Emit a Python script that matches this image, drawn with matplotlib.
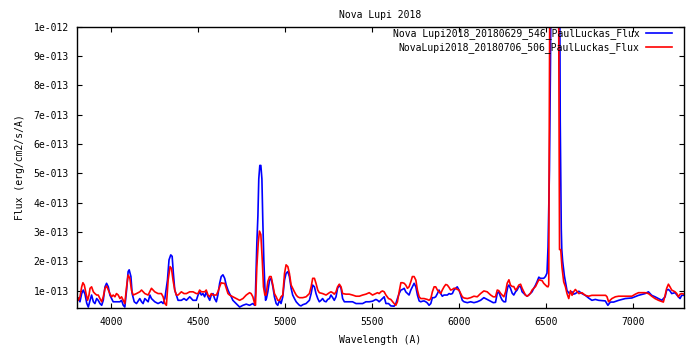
import numpy as np
import matplotlib as mpl
mpl.use("Agg")
from matplotlib import pyplot as plt

# spectrum 2018-06-29 (blue), flux in units of 1e-13 erg/cm2/s/A
wave_0629 = [3803, 3813, 3822, 3832, 3841, 3851, 3861, 3870, 3880, 3889, 3899, 3908, 3918, 3927, 3937, 3947, 3956,
             3966, 3975, 3985, 3994, 4004, 4013, 4023, 4042, 4052, 4061, 4071, 4080, 4090, 4099, 4105, 4115, 4122,
             4134, 4147, 4166, 4176, 4185, 4195, 4214, 4224, 4233, 4252, 4271, 4290, 4300, 4310, 4325, 4334, 4344,
             4352, 4359, 4367, 4376, 4386, 4405, 4420,
             4434, 4453, 4472, 4491, 4501, 4510, 4520, 4529, 4539, 4548, 4558, 4568, 4577, 4587, 4596, 4606, 4615,
             4625, 4634, 4644, 4654, 4663, 4673, 4682, 4692, 4701, 4720, 4740, 4759, 4778, 4797, 4816, 4826, 4831,
             4839, 4845, 4850, 4856, 4862, 4868, 4873, 4879, 4885, 4889, 4894, 4902, 4912, 4921, 4931, 4940, 4950,
             4959, 4969, 4978, 4988,
             4998, 5007, 5017, 5026, 5036, 5045, 5055, 5065, 5074, 5084, 5093, 5103, 5122, 5141, 5151, 5160, 5170,
             5179, 5189, 5198, 5208, 5217, 5227, 5237, 5246, 5256, 5265, 5275, 5284, 5294, 5303, 5313, 5323, 5332,
             5342, 5370, 5389, 5409, 5428, 5447, 5466, 5485, 5504, 5523, 5533, 5542, 5561, 5571, 5581, 5596,
             5609, 5628, 5638, 5647, 5657, 5667, 5676, 5686, 5695, 5705, 5714, 5724, 5733, 5743, 5753, 5762, 5772,
             5781, 5791, 5800, 5810, 5819, 5829, 5839, 5848, 5858, 5867, 5877, 5886, 5896, 5905, 5915, 5934, 5944,
             5953, 5963, 5972, 5982, 5991, 6001, 6011, 6020, 6030, 6049, 6068, 6087, 6106, 6125, 6144, 6163, 6183,
             6198,
             6211, 6221, 6230, 6240, 6249, 6259, 6269, 6274, 6282, 6288, 6297, 6307, 6316, 6326, 6335, 6345, 6355,
             6364, 6383, 6393, 6402, 6412, 6421, 6431, 6441, 6450, 6460, 6469, 6488, 6498, 6507, 6513, 6521, 6527,
             6533, 6555, 6578, 6583, 6586, 6589, 6592, 6597, 6607, 6622, 6636,
             6642, 6651, 6660, 6670, 6690, 6708, 6727, 6746, 6765, 6785, 6804, 6842, 6857, 6871, 6890, 6919, 6957,
             6995, 7033, 7071, 7090, 7109, 7128, 7148, 7167, 7186, 7195, 7205, 7214, 7224, 7243, 7262, 7272, 7281,
             7295]
flux_0629 = [0.79, 0.74, 0.62, 0.90, 1.02, 0.88, 0.57, 0.44, 0.67, 0.85, 0.62, 0.56, 0.73, 0.67, 0.56, 0.50, 0.67,
             1.13, 1.25, 1.13, 0.85, 0.73, 0.62, 0.62, 0.62, 0.62, 0.67, 0.50, 0.44, 1.02, 1.65, 1.71, 1.48, 0.90,
             0.62, 0.56, 0.73, 0.62, 0.56, 0.73, 0.62, 0.85, 0.73, 0.62, 0.56, 0.62, 0.56, 0.73, 1.36, 2.05, 2.22,
             2.17, 1.59, 1.02, 0.85, 0.67, 0.67, 0.73,
             0.67, 0.79, 0.67, 0.67, 0.85, 0.96, 0.85, 0.90, 0.79, 0.96, 0.79, 0.67, 0.85, 0.90, 0.73, 0.62, 0.85,
             1.25, 1.48, 1.54, 1.42, 1.19, 1.02, 0.90, 0.79, 0.67, 0.56, 0.44, 0.50, 0.54, 0.50, 0.56, 0.50, 0.90,
             2.63, 3.55, 4.81, 5.27, 5.27, 4.81, 3.43, 2.05, 1.13, 0.67, 0.73, 0.96, 1.36, 1.42, 1.13, 0.79, 0.56,
             0.50, 0.67, 0.56, 0.79,
             1.36, 1.59, 1.65, 1.48, 1.08, 0.85, 0.73, 0.62, 0.56, 0.50, 0.48, 0.52, 0.56, 0.67, 0.90, 1.19, 1.13,
             0.90, 0.73, 0.62, 0.67, 0.73, 0.64, 0.62, 0.70, 0.73, 0.85, 0.76, 0.67, 0.79, 1.08, 1.19, 1.08, 0.73,
             0.62, 0.62, 0.62, 0.56, 0.56, 0.56, 0.62, 0.62, 0.64, 0.70, 0.67, 0.62, 0.73, 0.79, 0.56, 0.56,
             0.48, 0.47, 0.56, 0.73, 0.90, 1.02, 1.04, 1.08, 0.96, 0.90, 0.85, 1.02, 1.13, 1.25, 1.13, 0.85, 0.65,
             0.62, 0.64, 0.65, 0.62, 0.58, 0.50, 0.56, 0.76, 0.76, 0.79, 0.90, 1.02, 0.90, 0.81, 0.85, 0.85, 0.90,
             0.88, 0.90, 1.02, 1.08, 1.13, 1.02, 0.85, 0.67, 0.62, 0.59, 0.62, 0.59, 0.62, 0.67, 0.76, 0.70, 0.64,
             0.59,
             0.60, 0.91, 0.96, 0.79, 0.68, 0.62, 0.62, 0.91, 1.14, 1.19, 1.08, 0.91, 0.85, 0.96, 1.02, 1.14, 1.14,
             0.96, 0.85, 0.81, 0.85, 0.91, 0.96, 1.08, 1.19, 1.31, 1.46, 1.42, 1.42, 1.48, 1.60, 2.50, 5.10, 8.80,
             14.0, 22.0, 15.0, 6.80, 4.90, 3.10, 2.40, 2.00, 1.50, 1.00, 0.90,
             0.96, 0.96, 0.88, 0.90, 0.98, 0.90, 0.84, 0.75, 0.67, 0.70, 0.67, 0.65, 0.50, 0.61, 0.61, 0.67, 0.73,
             0.75, 0.84, 0.90, 0.96, 0.84, 0.79, 0.73, 0.67, 0.79, 1.02, 1.04, 0.99, 0.90, 0.93, 0.79, 0.73, 0.84,
             0.84]

# spectrum 2018-07-06 (red)
wave_0706 = [3803, 3813, 3822, 3832, 3839, 3847, 3857, 3866, 3874, 3880, 3889, 3899, 3908, 3918, 3927, 3937, 3947,
             3956, 3966, 3975, 3985, 3994, 4004, 4013, 4023, 4032, 4042, 4052, 4061, 4071, 4080, 4090, 4099, 4109,
             4118, 4128, 4147, 4166, 4176, 4195, 4214, 4233, 4252, 4271, 4290, 4300, 4310, 4319, 4329, 4340, 4348,
             4357, 4367, 4376, 4386, 4405, 4420,
             4434, 4453, 4472, 4491, 4501, 4510, 4520, 4539, 4548, 4558, 4568, 4577, 4587, 4606, 4615, 4625, 4634,
             4644, 4654, 4663, 4673, 4682, 4701, 4720, 4740, 4759, 4778, 4797, 4806, 4816, 4826, 4831, 4839, 4847,
             4854, 4862, 4870, 4877, 4885, 4892, 4902, 4912, 4921, 4931, 4940, 4950, 4959, 4969, 4978, 4988,
             4998, 5007, 5017, 5026, 5036, 5045, 5055, 5065, 5074, 5084, 5103, 5122, 5141, 5151, 5160, 5170, 5179,
             5189, 5198, 5217, 5237, 5256, 5265, 5275, 5284, 5294, 5303, 5313, 5323, 5332, 5351, 5370, 5389, 5409,
             5428, 5447, 5466, 5485, 5504, 5523, 5533, 5542, 5552, 5561, 5571, 5581, 5596,
             5609, 5628, 5638, 5647, 5657, 5667, 5676, 5686, 5695, 5705, 5714, 5724, 5733, 5743, 5753, 5762, 5772,
             5781, 5800, 5819, 5829, 5839, 5848, 5858, 5867, 5877, 5886, 5896, 5905, 5915, 5925, 5934, 5944, 5953,
             5963, 5972, 5982, 5991, 6001, 6011, 6020, 6030, 6049, 6068, 6087, 6106, 6125, 6144, 6163, 6183, 6198,
             6211, 6221, 6230, 6240, 6249, 6259, 6269, 6278, 6288, 6297, 6307, 6316, 6326, 6335, 6345, 6355, 6364,
             6374, 6383, 6393, 6402, 6412, 6421, 6441, 6450, 6460, 6479, 6488, 6498, 6507, 6513, 6517, 6519, 6525,
             6550, 6572, 6579, 6586, 6593, 6603, 6613, 6622, 6632,
             6642, 6651, 6660, 6670, 6690, 6708, 6727, 6746, 6765, 6804, 6844, 6852, 6861, 6880, 6900, 6919, 6995,
             7015, 7033, 7071, 7090, 7109, 7128, 7148, 7176, 7186, 7195, 7205, 7214, 7224, 7243, 7253, 7262, 7272,
             7281, 7295]
flux_0706 = [0.84, 0.67, 0.79, 1.13, 1.27, 1.19, 0.90, 0.67, 0.85, 1.08, 1.13, 0.96, 0.90, 0.85, 0.85, 0.73, 0.62,
             0.79, 1.08, 1.16, 1.02, 0.90, 0.79, 0.85, 0.79, 0.90, 0.85, 0.73, 0.79, 0.67, 0.56, 1.13, 1.53, 1.42,
             1.02, 0.85, 0.90, 0.96, 1.02, 0.90, 0.85, 1.08, 0.96, 0.90, 0.90, 0.79, 0.56, 0.50, 1.36, 1.82, 1.76,
             1.36, 1.02, 0.85, 0.85, 0.96, 0.90,
             0.90, 0.96, 0.96, 0.90, 0.90, 1.02, 0.96, 0.96, 1.02, 0.85, 0.79, 0.90, 0.85, 0.85, 0.96, 1.13, 1.27,
             1.25, 1.25, 1.08, 0.90, 0.85, 0.79, 0.73, 0.67, 0.73, 0.85, 0.93, 0.90, 0.79, 0.56, 0.50, 1.82, 2.63,
             3.03, 2.91, 2.05, 1.13, 0.85, 0.85, 1.31, 1.48, 1.48, 1.19, 0.90, 0.79, 0.67, 0.67, 0.79, 0.85,
             1.59, 1.88, 1.82, 1.59, 1.19, 1.08, 0.96, 0.85, 0.79, 0.76, 0.76, 0.79, 0.90, 1.13, 1.42, 1.42, 1.25,
             1.02, 0.93, 0.90, 0.85, 0.93, 0.96, 0.93, 0.88, 0.96, 1.13, 1.22, 1.13, 0.90, 0.88, 0.88, 0.85, 0.81,
             0.81, 0.85, 0.88, 0.93, 0.85, 0.90, 0.93, 0.90, 0.96, 0.99, 0.96, 0.85, 0.73,
             0.70, 0.56, 0.50, 0.62, 0.96, 1.27, 1.27, 1.25, 1.19, 1.08, 1.13, 1.30, 1.48, 1.48, 1.36, 1.02, 0.79,
             0.73, 0.73, 0.70, 0.67, 0.73, 0.96, 1.13, 1.13, 1.02, 0.96, 0.90, 1.02, 1.13, 1.21, 1.19, 1.11, 1.02,
             1.04, 1.08, 1.08, 1.04, 1.02, 0.90, 0.79, 0.75, 0.73, 0.76, 0.81, 0.79, 0.90, 0.99, 0.96, 0.85, 0.79,
             0.79, 1.02, 1.00, 0.91, 0.85, 0.79, 0.96, 1.25, 1.37, 1.19, 1.14, 1.14, 1.02, 1.08, 1.19, 1.22, 1.08,
             0.96, 0.85, 0.81, 0.85, 0.91, 1.02, 1.14, 1.25, 1.37, 1.34, 1.25, 1.19, 1.14, 1.13, 1.20, 5.10, 14.0,
             20.0, 14.0, 2.40, 2.40, 1.80, 1.30, 1.13, 0.90, 0.73,
             1.00, 0.84, 0.96, 1.04, 0.90, 0.93, 0.84, 0.81, 0.84, 0.84, 0.84, 0.79, 0.62, 0.73, 0.79, 0.81, 0.81,
             0.88, 0.93, 0.93, 0.90, 0.81, 0.73, 0.67, 0.61, 0.84, 1.08, 1.22, 1.13, 1.02, 0.96, 0.90, 0.79, 0.88,
             0.90, 0.88]

label_0629 = "Nova Lupi2018_20180629_546_PaulLuckas_Flux"
label_0706 = "NovaLupi2018_20180706_506_PaulLuckas_Flux"

xticks = [4000, 4500, 5000, 5500, 6000, 6500, 7000]
yticks = [1e-13, 2e-13, 3e-13, 4e-13, 5e-13, 6e-13, 7e-13, 8e-13, 9e-13, 1e-12]
ytick_labels = ["1e-013", "2e-013", "3e-013", "4e-013", "5e-013",
                "6e-013", "7e-013", "8e-013", "9e-013", "1e-012"]

plt.rcParams["font.family"] = ["DejaVu Sans Mono"]
plt.rcParams["font.size"] = 7

fig = plt.figure(figsize=(7, 3.5), dpi=100)
ax = fig.add_axes([0.110, 0.119, 0.867, 0.8046])

ax.plot(wave_0629, np.array(flux_0629) * 1e-13, color="#0000ff", lw=1.2, label=label_0629)
ax.plot(wave_0706, np.array(flux_0706) * 1e-13, color="#ff0000", lw=1.2, label=label_0706)

ax.set_xlim(3805, 7294)
ax.set_ylim(3.96e-14, 1e-12)
ax.set_xticks(xticks)
ax.set_yticks(yticks)
ax.set_yticklabels(ytick_labels)

ax.tick_params(direction="in", length=3.6, width=0.8, top=True, right=True, pad=6, labelsize=7)
for s in ax.spines.values():
    s.set_linewidth(1.0)

ax.set_title("Nova Lupi 2018", fontsize=7, pad=6)
ax.set_xlabel("Wavelength (A)", fontsize=7, labelpad=6)
ax.set_ylabel("Flux (erg/cm2/s/A)", fontsize=7, labelpad=6)

ax.legend(loc="upper right", bbox_to_anchor=(0.981, 0.995), frameon=False, markerfirst=False,
          borderaxespad=0, borderpad=0, handlelength=2.7, handletextpad=0.7, labelspacing=0.35,
          fontsize=7)

fig.savefig("out.png", dpi=100)
